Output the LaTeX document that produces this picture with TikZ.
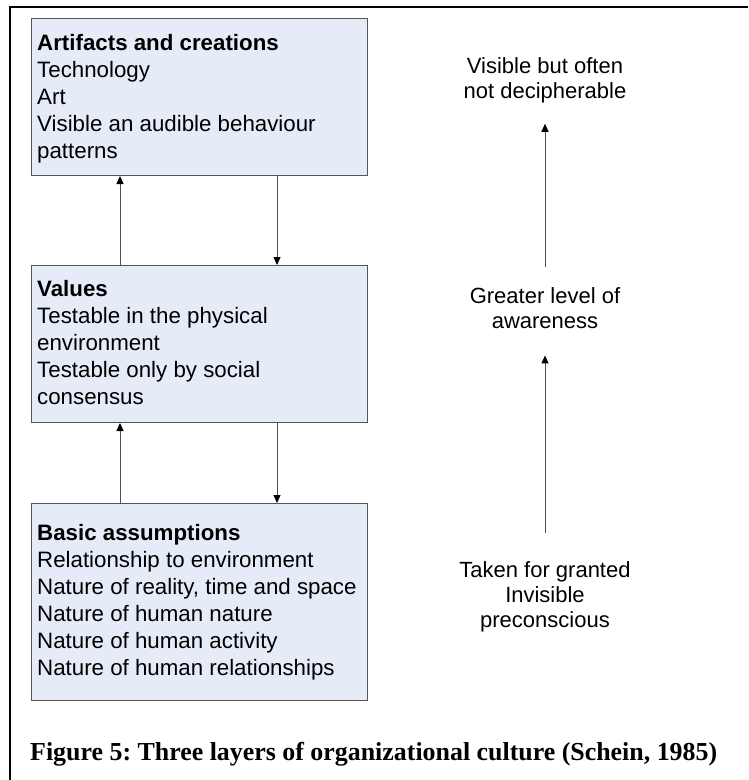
\documentclass[tikz,border=0pt]{standalone}
\usepackage{fontspec}
\setmainfont{Liberation Serif}
\newfontfamily\arialfont{Liberation Sans}
\usetikzlibrary{arrows.meta,calc}
\definecolor{boxfill}{RGB}{230,236,247}
\definecolor{boxline}{RGB}{85,85,85}
\definecolor{linkgray}{RGB}{80,80,80}
% text blocks whose baseline is that of their first line
\newcommand{\leftblock}[1]{\begin{minipage}[t]{330pt}\raggedright #1\end{minipage}}
\newcommand{\midblock}[1]{\begin{minipage}[t]{220pt}\centering #1\end{minipage}}
\begin{document}
\frenchspacing
\begin{tikzpicture}[x=1pt,y=-1pt,
  layer/.style={draw=boxline, fill=boxfill, line width=1pt, anchor=north west,
                minimum width=336pt, inner sep=0pt},
  boxtext/.style={anchor=base west, inner sep=0pt,
                  font=\arialfont\fontsize{22.3}{27}\selectfont},
  sidetext/.style={anchor=base, inner sep=0pt,
                   font=\arialfont\fontsize{22}{25}\selectfont},
  link/.style={draw=linkgray, line width=1pt,
               -{Triangle[length=8pt,width=7pt,color=black]}},
]
\useasboundingbox (0,0) rectangle (748,780);

% outer frame (left and top edges)
\draw[line width=2pt] (10,780) -- (10,7) -- (748,7);

% the three layers
\node[layer, minimum height=157pt] (art) at (31,18) {};
\node[layer, minimum height=157pt] (val) at (31,265) {};
\node[layer, minimum height=197pt] (bas) at (31,503) {};

\node[boxtext] (arttext) at (37,50) {\leftblock{\textbf{Artifacts and creations}\\Technology\\Art\\Visible an audible behaviour\\patterns}};
\node[boxtext] (valtext) at (37,296) {\leftblock{\textbf{Values}\\Testable in the physical\\environment\\Testable only by social\\consensus}};
\node[boxtext] (bastext) at (37,540) {\leftblock{\textbf{Basic assumptions}\\Relationship to environment\\Nature of reality, time and space\\Nature of human nature\\Nature of human activity\\Nature of human relationships}};

% links between layers
\draw[link] ($(val.north west)+(89,0)$) -- ($(art.south west)+(89,0)$);
\draw[link] ($(art.south west)+(246,0)$) -- ($(val.north west)+(246,0)$);
\draw[link] ($(bas.north west)+(89,0)$) -- ($(val.south west)+(89,0)$);
\draw[link] ($(val.south west)+(246,0)$) -- ($(bas.north west)+(246,0)$);

% awareness scale
\node[sidetext] (visible) at (545,73) {\midblock{Visible but often\\not decipherable}};
\node[sidetext] (aware) at (545,303) {\midblock{Greater level of\\awareness}};
\node[sidetext] (granted) at (545,577) {\midblock{Taken for granted\\Invisible\\preconscious}};

\draw[link, shorten <=20pt, shorten >=21pt] (aware.north) -- (visible.south);
\draw[link, shorten <=28pt, shorten >=27pt] (granted.north) -- (aware.south);

% caption
\node[anchor=base west, inner sep=0pt, font=\bfseries\fontsize{25.9}{30}\selectfont] (caption) at (30,760) {Figure 5: Three layers of organizational culture (Schein, 1985)};
\end{tikzpicture}
\end{document}
